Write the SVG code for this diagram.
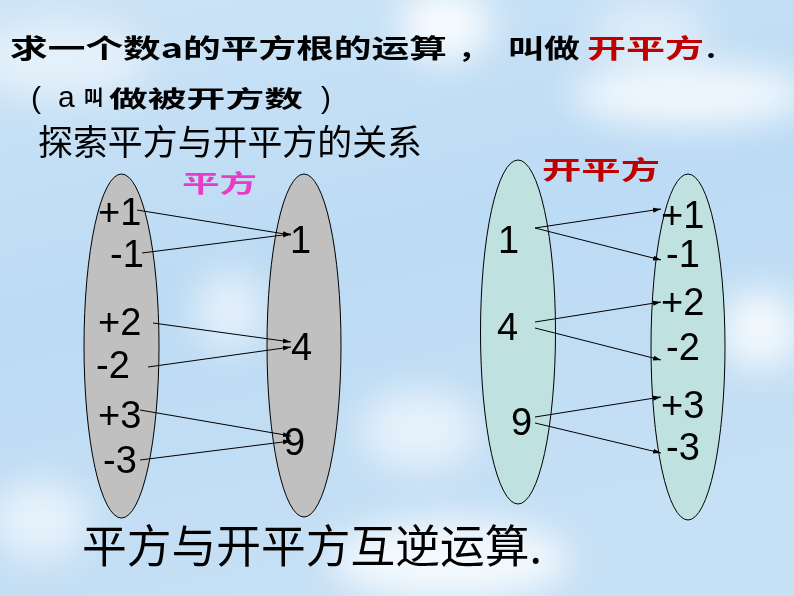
<svg xmlns="http://www.w3.org/2000/svg" width="794" height="596" viewBox="0 0 794 596">
<style>
.title{font-family:"Noto Sans CJK SC","Liberation Sans",sans-serif;font-weight:bold;fill:#000}
.song{font-family:"Noto Sans CJK SC",sans-serif;fill:#000}
.lat{font-family:"Liberation Sans",Arial,sans-serif;fill:#000}
.num{font-family:"Liberation Sans",Arial,sans-serif;font-size:38px;fill:#000}
.gray{fill:#c0c0c0;stroke:#000;stroke-width:1}
.cyan{fill:#bfe1df;stroke:#000;stroke-width:1}
.conn line{stroke:#000;stroke-width:1;marker-end:url(#ah)}
</style>
<defs>
<linearGradient id="sky" x1="0" y1="0" x2="0.3" y2="1">
<stop offset="0" stop-color="#cde4f6"/>
<stop offset="0.5" stop-color="#bcdbf4"/>
<stop offset="1" stop-color="#c6e0f5"/>
</linearGradient>
<filter id="blur" x="-50%" y="-50%" width="200%" height="200%"><feGaussianBlur stdDeviation="18"/></filter>
<marker id="ah" viewBox="0 0 8 6" refX="8" refY="3" markerWidth="8" markerHeight="6" markerUnits="userSpaceOnUse" orient="auto">
<path d="M0,0.5 L8,3 L0,5.5 Z" fill="#000"/>
</marker>
</defs>
<rect width="794" height="596" fill="url(#sky)"/>
<g filter="url(#blur)" fill="#fff">
<ellipse cx="445" cy="25" rx="45" ry="35" opacity="0.9"/>
<ellipse cx="690" cy="95" rx="120" ry="30" opacity="0.8"/>
<ellipse cx="60" cy="60" rx="90" ry="40" opacity="0.5"/>
<ellipse cx="230" cy="310" rx="35" ry="40" opacity="0.6"/>
<ellipse cx="760" cy="330" rx="40" ry="40" opacity="0.8"/>
<ellipse cx="420" cy="430" rx="60" ry="40" opacity="0.6"/>
<ellipse cx="450" cy="560" rx="120" ry="40" opacity="0.8"/>
<ellipse cx="40" cy="520" rx="50" ry="40" opacity="0.6"/>
<ellipse cx="650" cy="30" rx="60" ry="25" opacity="0.5"/>
</g>

<g id="title">
<text class="title" font-size="31" transform="translate(0,58) scale(1,0.85)"><tspan x="10" textLength="437" lengthAdjust="spacingAndGlyphs">求一个数a的平方根的运算</tspan><tspan x="458">，</tspan><tspan x="508" textLength="72" lengthAdjust="spacingAndGlyphs">叫做</tspan><tspan x="587" fill="#c00000" textLength="117" lengthAdjust="spacingAndGlyphs">开平方</tspan><tspan x="706">.</tspan></text>
</g>
<g id="note">
<text class="lat" font-size="30" x="31" y="108">(</text>
<text class="lat" font-size="30" x="58" y="107">a</text>
<text class="title" font-size="20" x="84" y="105" textLength="19" lengthAdjust="spacingAndGlyphs">叫</text>
<text class="title" font-size="32" transform="translate(0,107) scale(1,0.72)"><tspan x="109" textLength="194" lengthAdjust="spacingAndGlyphs">做被开方数</tspan></text>
<text class="lat" font-size="30" x="321" y="108">)</text>
</g>
<g id="explore">
<text class="song" font-size="35" x="38" y="155" textLength="384" lengthAdjust="spacingAndGlyphs">探索平方与开平方的关系</text>
</g>
<g id="label-square">
<text class="title" font-size="36" style="fill:#e63cc8" transform="translate(182,192) scale(1,0.66)" textLength="75" lengthAdjust="spacingAndGlyphs">平方</text>
</g>
<g id="label-sqrt">
<text class="title" font-size="36" style="fill:#c00000" transform="translate(542,179) scale(1,0.7)" textLength="118" lengthAdjust="spacingAndGlyphs">开平方</text>
</g>

<g id="set-roots-left">
<ellipse class="gray" cx="121.5" cy="346" rx="37.5" ry="172"/>
<text class="num" x="98" y="225">+1</text>
<text class="num" x="110" y="267">-1</text>
<text class="num" x="98" y="335">+2</text>
<text class="num" x="96" y="378">-2</text>
<text class="num" x="98" y="428">+3</text>
<text class="num" x="103" y="473">-3</text>
</g>
<g id="set-squares-left">
<ellipse class="gray" cx="304" cy="345.5" rx="37" ry="171.5"/>
<text class="num" x="290" y="253">1</text>
<text class="num" x="291" y="360">4</text>
<text class="num" x="284" y="455">9</text>
</g>
<g id="set-squares-right">
<ellipse class="cyan" cx="518" cy="332" rx="37.5" ry="172"/>
<text class="num" x="498" y="253">1</text>
<text class="num" x="497" y="340">4</text>
<text class="num" x="511" y="435">9</text>
</g>
<g id="set-roots-right">
<ellipse class="cyan" cx="688" cy="347" rx="37" ry="173"/>
<text class="num" x="661" y="228">+1</text>
<text class="num" x="666" y="267">-1</text>
<text class="num" x="661" y="315">+2</text>
<text class="num" x="666" y="360">-2</text>
<text class="num" x="661" y="418">+3</text>
<text class="num" x="666" y="460">-3</text>
</g>

<g class="conn" id="connectors">
<line x1="137" y1="210" x2="291" y2="235"/>
<line x1="142" y1="253" x2="291" y2="234"/>
<line x1="153" y1="323" x2="291" y2="342"/>
<line x1="148" y1="367" x2="291" y2="347"/>
<line x1="140" y1="410" x2="291" y2="436"/>
<line x1="140" y1="460" x2="291" y2="441"/>
<line x1="535" y1="228" x2="661" y2="209"/>
<line x1="535" y1="228" x2="661" y2="260"/>
<line x1="535" y1="322" x2="661" y2="302"/>
<line x1="535" y1="328" x2="661" y2="360"/>
<line x1="535" y1="417" x2="661" y2="397"/>
<line x1="535" y1="423" x2="661" y2="453"/>
</g>

<g id="conclusion">
<text class="song" font-size="45" x="82" y="563" textLength="460" lengthAdjust="spacingAndGlyphs">平方与开平方互逆运算.</text>
</g>
</svg>
